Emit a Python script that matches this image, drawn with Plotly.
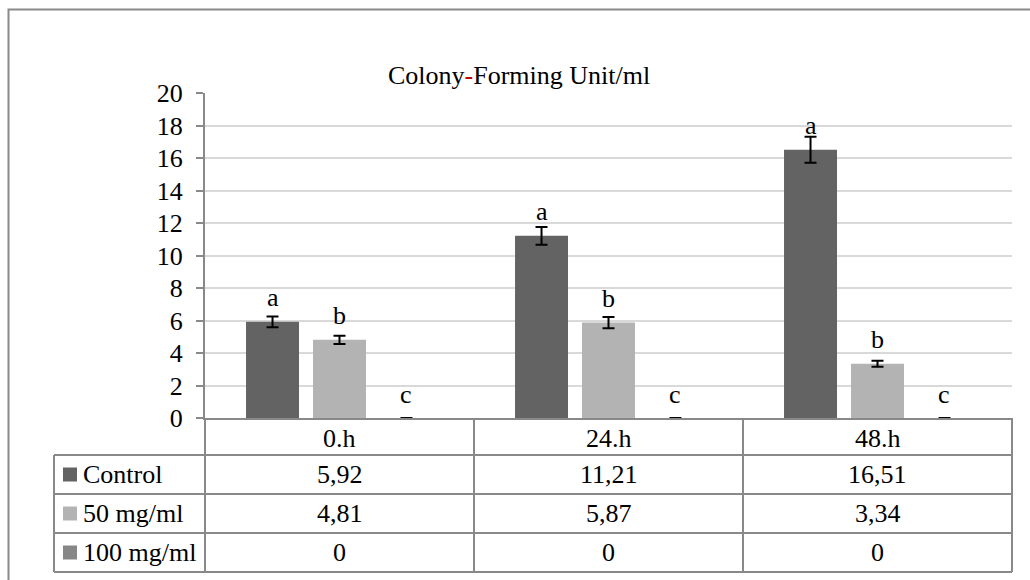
import plotly.graph_objects as go

# --- data -------------------------------------------------------------
periods = ["0.h", "24.h", "48.h"]
series_names = ["Control", "50 mg/ml", "100 mg/ml"]
control = [5.92, 11.21, 16.51]
mg50 = [4.81, 5.87, 3.34]
mg100 = [0, 0, 0]
control_err = [0.33, 0.55, 0.80]
mg50_err = [0.25, 0.35, 0.18]
mg100_err = [0, 0, 0]
control_letters = ["a", "a", "a"]
mg50_letters = ["b", "b", "b"]
mg100_letters = ["c", "c", "c"]
y_ticks = list(range(0, 21, 2))

# --- styling ----------------------------------------------------------
FONT = "Liberation Serif"
FS = 26
colors = ["#636363", "#b3b3b3", "#878787"]
GRID = "#d9d9d9"
LINE = "#898989"

W, H = 1030, 580
L, R, T, B = 205, 18, 93, 162
PW, PH = W - L - R, H - T - B
BARGAP = 0.253
BARGROUPGAP = 0.209


def xp(px):
    return (px - L) / PW


def yp(py):
    return (T + PH - py) / PH


def text_note(x, y, text, xanchor="center"):
    return dict(x=xp(x), y=yp(y), xref="paper", yref="paper", text=text,
                showarrow=False, xanchor=xanchor, yanchor="middle",
                font=dict(family=FONT, size=FS, color="black"))


series = [control, mg50, mg100]
errors = [control_err, mg50_err, mg100_err]
letters = [control_letters, mg50_letters, mg100_letters]

fig = go.Figure()
for name, vals, err, col in zip(series_names, series, errors, colors):
    fig.add_trace(go.Bar(
        x=periods, y=vals, name=name,
        marker=dict(color=col, line=dict(width=0)),
        error_y=dict(type="data", array=err, visible=True,
                     color="black", thickness=2, width=6),
        showlegend=False))

# significance letters above each bar
slot = (1 - BARGAP) / len(series)
annotations = []
for j, (vals, labs) in enumerate(zip(series, letters)):
    off = (j - (len(series) - 1) / 2) * slot
    for i, (v, lab) in enumerate(zip(vals, labs)):
        annotations.append(dict(x=i + off, y=v, xref="x", yref="y", text=lab,
                                showarrow=False, yshift=24, yanchor="middle",
                                xanchor="center",
                                font=dict(family=FONT, size=FS, color="black")))

# chart title
annotations.append(text_note(
    519, 75, "Colony<span style='color:#c00000'>-</span>Forming Unit/ml"))

# data table under the plot
col_edges = [205, 474, 743, 1012]
row_edges = [418, 455, 494, 533, 572]
label_left = 54
shapes = []
line_style = dict(color=LINE, width=2)
for x in col_edges:
    shapes.append(dict(type="line", xref="paper", yref="paper",
                       x0=xp(x), x1=xp(x), y0=yp(row_edges[0]), y1=yp(row_edges[-1]),
                       line=line_style))
shapes.append(dict(type="line", xref="paper", yref="paper",
                   x0=xp(label_left), x1=xp(label_left),
                   y0=yp(row_edges[1]), y1=yp(row_edges[-1]), line=line_style))
for y in row_edges[1:]:
    shapes.append(dict(type="line", xref="paper", yref="paper",
                       x0=xp(label_left), x1=xp(col_edges[-1]), y0=yp(y), y1=yp(y),
                       line=line_style))

for i, p in enumerate(periods):
    cx = (col_edges[i] + col_edges[i + 1]) / 2
    cy = (row_edges[0] + row_edges[1]) / 2 + 2
    annotations.append(text_note(cx, cy, p))

for r, (name, vals, col) in enumerate(zip(series_names, series, colors)):
    cy = (row_edges[r + 1] + row_edges[r + 2]) / 2
    shapes.append(dict(type="rect", xref="paper", yref="paper",
                       x0=xp(63), x1=xp(77), y0=yp(cy - 7), y1=yp(cy + 7),
                       fillcolor=col, line=dict(width=0)))
    annotations.append(text_note(81, cy, name, xanchor="left"))
    for i, v in enumerate(vals):
        cx = (col_edges[i] + col_edges[i + 1]) / 2
        txt = f"{v:.2f}".replace(".", ",") if v != 0 else "0"
        annotations.append(text_note(cx, cy, txt))

# outer chart frame
shapes.append(dict(type="rect", xref="paper", yref="paper",
                   x0=xp(8.5), x1=xp(1040), y0=yp(9.5), y1=yp(600),
                   line=dict(color="#8a8a8a", width=2)))

fig.update_layout(
    width=W, height=H,
    margin=dict(l=L, r=R, t=T, b=B, pad=0),
    paper_bgcolor="white", plot_bgcolor="white",
    barmode="group", bargap=BARGAP, bargroupgap=BARGROUPGAP,
    font=dict(family=FONT, size=FS, color="black"),
    xaxis=dict(type="category", range=[-0.5, 2.5], showticklabels=False,
               showline=True, linecolor=LINE, linewidth=2, ticks="",
               showgrid=False, zeroline=False, fixedrange=True),
    yaxis=dict(range=[0, 20], tickvals=y_ticks, showgrid=True, gridcolor=GRID,
               gridwidth=1.5, showline=True, linecolor=LINE, linewidth=2,
               ticks="outside", ticklen=7, tickcolor=LINE, tickwidth=1.5,
               ticklabelstandoff=8, zeroline=False,
               tickfont=dict(family=FONT, size=FS, color="black")),
    shapes=shapes, annotations=annotations,
)

fig.write_html("out.html")
